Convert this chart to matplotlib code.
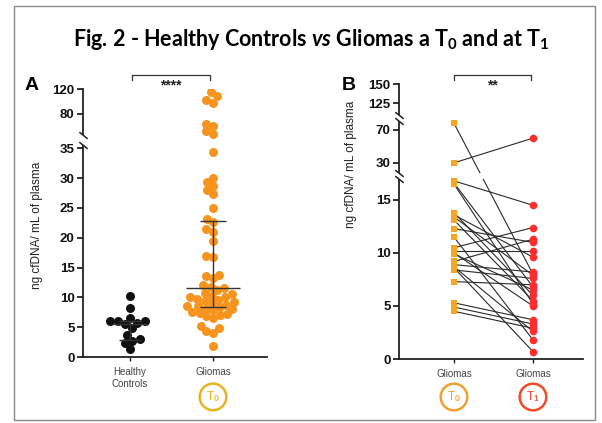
import numpy as np
import matplotlib
matplotlib.use("Agg")
import matplotlib.pyplot as plt
import matplotlib.transforms as mtransforms
from matplotlib.patches import Rectangle

plt.rcParams["font.family"] = ["Liberation Sans", "DejaVu Sans"]
plt.rcParams["mathtext.fontset"] = "custom"
plt.rcParams["mathtext.rm"] = "Lato:bold"
plt.rcParams["mathtext.it"] = "Lato:italic:bold"
plt.rcParams["mathtext.bf"] = "Lato:bold"

# panel A: cfDNA (ng/mL plasma), healthy controls vs gliomas at T0
healthy = [10.3, 8.2, 6.5, 6.1, 6.0, 6.0, 5.7, 5.5, 4.8, 3.7, 3.1, 2.7, 2.3, 1.3]
gliomas_t0 = [115, 108, 102, 98, 64, 60, 52, 48,
              34.4, 30.0, 29.4, 28.7, 28.0, 27.3, 25.0, 23.2, 22.6, 21.5, 21.0,
              19.4, 17.0, 16.7, 13.8, 13.5, 13.2, 12.0, 11.8, 11.5, 11.2, 10.8,
              10.5, 10.3, 10.1, 10.0, 9.8, 9.6, 9.4, 9.2, 9.0, 8.8, 8.6, 8.5,
              8.3, 8.1, 8.0, 7.8, 7.6, 7.4, 7.2, 7.0, 6.8, 6.5, 5.2, 4.8, 4.4,
              4.0, 1.8]
group_labels = ["Healthy\nControls", "Gliomas"]
# median and interquartile range per group
healthy_med, healthy_iqr = 5.5, (2.9, 6.1)
gliomas_med, gliomas_iqr = 11.6, (8.3, 22.8)
ticks_a = [0, 5, 10, 15, 20, 25, 30, 35, 80, 120]

# panel B: same patients at T0 and T1
paired_t0 = [78, 30, 16.8, 16.6, 16.5, 13.8, 13.6, 13.4, 13.1, 12.3, 11.5, 10.5,
             10.2, 10.0, 9.9, 9.2, 8.9, 8.7, 8.6, 8.4, 7.3, 5.3, 4.9, 4.5]
paired_t1 = [8.0, 60, 14.5, 6.8, 5.2, 6.0, 9.6, 7.9, 5.5, 11.0, 1.8, 12.4,
             10.2, 5.0, 6.5, 11.3, 8.2, 2.6, 0.7, 7.6, 7.0, 3.7, 3.3, 2.9]
ticks_b = [0, 5, 10, 15, 30, 70, 125, 150]

ORANGE = "#F7941D"
T0_COL = "#F5A623"
T1_COL = "#FF2D2D"


def broken_scale(segments, gap):
    """Piecewise-linear y mapping: (lo, hi, px per unit) per segment, gap in px."""
    xs, ys, pos = [], [], 0.0
    for i, (lo, hi, w) in enumerate(segments):
        if i:
            pos += gap
        xs += [lo, hi]
        ys += [pos, pos + (hi - lo) * w]
        pos = ys[-1]
    xs = [xs[0] - 1e4] + xs + [xs[-1] + 1e4]
    ys = [ys[0] - 1e4 * segments[0][2]] + ys + [ys[-1] + 1e4 * segments[-1][2]]
    return (lambda v: np.interp(v, xs, ys)), (lambda u: np.interp(u, ys, xs))


def style_axis(ax, segments, gap, ticks, xlim):
    fwd, inv = broken_scale(segments, gap)
    ax.set_yscale("function", functions=(fwd, inv))
    ax.set_ylim(segments[0][0], segments[-1][1])
    ax.set_xlim(*xlim)
    ax.set_yticks(ticks)
    ax.set_yticklabels([str(t) for t in ticks], fontweight="bold")
    for s in ("top", "right"):
        ax.spines[s].set_visible(False)
    for s in ("left", "bottom"):
        ax.spines[s].set_linewidth(1.3)
        ax.spines[s].set_color("#222222")
    ax.tick_params(axis="y", length=4, width=1.2, labelsize=9.5, pad=2, colors="#111111")
    ax.tick_params(axis="x", length=3, width=1.0, labelsize=7, pad=4,
                   colors="#222222", labelcolor="#444444")
    # blank out the gaps between segments and mark the breaks on the axis
    ytr = ax.get_yaxis_transform()
    for (_, hi, _), (lo, _, _) in zip(segments[:-1], segments[1:]):
        ax.axhspan(hi, lo, xmin=-0.02, xmax=1.0, color="white", zorder=3,
                   clip_on=False, lw=0)
        for edge in (hi, lo):
            ax.plot([0], [edge], transform=ytr, marker=[(-1, 0.8), (1, -0.8)],
                    ms=6, mec="#222222", mew=1.1, clip_on=False, zorder=3.5)


def swarm(ax, x0, values, diam):
    vals = np.asarray(values, float)
    ys = ax.transData.transform(np.column_stack([np.full(len(vals), x0), vals]))[:, 1]
    xoff = np.zeros(len(vals))
    placed = []
    for i in np.argsort(ys):
        y = ys[i]
        near = [(px, np.sqrt(diam ** 2 - (py - y) ** 2)) for px, py in placed
                if abs(py - y) < diam]
        cands = [0.0] + [px + s * h for px, h in near for s in (-1, 1)]
        cands.sort(key=abs)
        for c in cands:
            if all(abs(c - px) >= h - 1e-6 for px, h in near):
                break
        xoff[i] = c
        placed.append((c, y))
    ppu = ax.transData.transform((1, 0))[0] - ax.transData.transform((0, 0))[0]
    return x0 + xoff / ppu


def circled(ax, x, y, label, color):
    tr = mtransforms.blended_transform_factory(ax.transData, ax.transAxes)
    ax.text(x, y, label, transform=tr, ha="center", va="center", color=color,
            fontsize=8.5, bbox=dict(boxstyle="circle,pad=0.5", fc="none", ec=color, lw=1.8))


def bracket(ax, x0, x1, ytop, ydrop, stars, ystar):
    tr = mtransforms.blended_transform_factory(ax.transData, ax.transAxes)
    ax.plot([x0, x0, x1, x1], [ytop - ydrop, ytop, ytop, ytop - ydrop], color="#333333",
            lw=0.9, transform=tr, clip_on=False)
    ax.text((x0 + x1) / 2, ystar, stars, transform=tr, ha="center", va="center",
            fontsize=10, fontweight="bold", color="#222222")


fig = plt.figure(figsize=(6.02, 4.23), dpi=100)
fig.patch.set_facecolor("white")
W, H = 602, 423

# ---- panel A
axA = fig.add_axes([83 / W, (H - 357) / H, 184 / W, 268 / H])
style_axis(axA, [(0, 35.5, 5.97), (46, 120, 0.625)], 10, ticks_a, (-0.566, 1.65))
axA.set_xticks([0, 1])
axA.set_xticklabels(group_labels, linespacing=1.3)

xh = swarm(axA, 0, healthy, 7.8)
xg = swarm(axA, 1, gliomas_t0, 7.3)
axA.scatter(xh, healthy, s=42, color="#111111", lw=0, zorder=4)
axA.scatter(xg, gliomas_t0, s=42, color=ORANGE, lw=0, zorder=4)

for x, med, (q1, q3), wmed, wcap in [(0, healthy_med, healthy_iqr, 0.2, 0.13),
                                     (1, gliomas_med, gliomas_iqr, 0.32, 0.16)]:
    axA.vlines(x, q1, q3, color="#333333", lw=1.0, zorder=5)
    axA.hlines([q1, q3], x - wcap, x + wcap, color="#333333", lw=1.0, zorder=5)
    axA.hlines(med, x - wmed, x + wmed, color="#333333", lw=1.0, zorder=5)

axA.set_ylabel("ng cfDNA/ mL of plasma", fontsize=8.5, color="#222222")
axA.yaxis.set_label_coords(-0.217, 0.49)
circled(axA, 1, -0.149, "T$_0$", "#E6B422")
bracket(axA, 0.03, 0.96, 1.052, 0.019, "****", 1.012)

# ---- panel B
axB = fig.add_axes([399 / W, (H - 359) / H, 184 / W, 275.4 / H])
style_axis(axB, [(0, 17, 10.6), (18, 81, 0.825), (110, 151, 0.76)], 6, ticks_b,
           (-0.696, 1.633))
axB.set_xticks([0, 1])
axB.set_xticklabels(["Gliomas", "Gliomas"])

t0 = np.asarray(paired_t0)
t1 = np.asarray(paired_t1)
axB.plot(np.vstack([np.zeros_like(t0), np.ones_like(t1)]), np.vstack([t0, t1]),
         color="#2a2a2a", lw=0.8, zorder=2)
axB.plot(np.zeros_like(t0), t0, "s", ms=5, color=T0_COL, mew=0, zorder=4)
axB.plot(np.ones_like(t1), t1, "o", ms=5.5, color=T1_COL, mew=0, zorder=4)

axB.set_ylabel("ng cfDNA/ mL of plasma", fontsize=8.5, color="#222222")
axB.yaxis.set_label_coords(-0.228, 0.705)
circled(axB, 0, -0.138, "T$_0$", "#F0A030")
circled(axB, 1, -0.138, "T$_1$", "#F04A2A")
bracket(axB, 0.0, 0.97, 1.031, 0.018, "**", 0.992)

# ---- title, panel letters, frame
fig.text(311 / W, 1 - 40 / H,
         r"Fig. 2 - Healthy Controls $\mathit{vs}$ Gliomas a T$_0$ and at T$_1$",
         ha="center", va="center", fontsize=15.5, fontfamily="Lato", fontweight="bold")
fig.text(32 / W, 1 - 86 / H, "A", ha="center", va="center", fontsize=14, fontweight="bold")
fig.text(349 / W, 1 - 86 / H, "B", ha="center", va="center", fontsize=14, fontweight="bold")
fig.add_artist(Rectangle((14 / W, 3 / H), 581 / W, 414 / H, transform=fig.transFigure,
                         fill=False, ec="#8a8a8a", lw=1.0))

fig.savefig("out.png", dpi=100)
